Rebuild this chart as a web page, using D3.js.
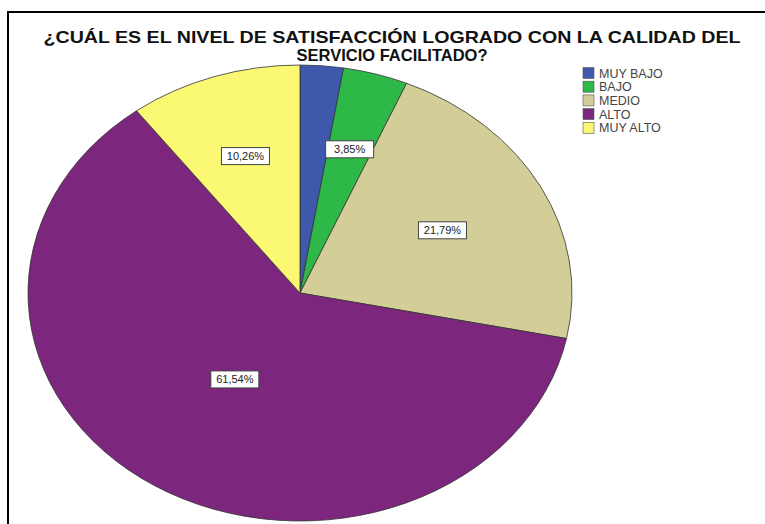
<!DOCTYPE html>
<head>
<meta charset="utf-8">
<script src="https://d3js.org/d3.v7.min.js"></script>
<title>Nivel de satisfacción</title>
<style>
  body { margin: 0; background: #fff; }
  svg { display: block; font-family: "Liberation Sans", Arial, sans-serif; }
</style>
</head>
<body>
<svg id="chart" width="765" height="524"></svg>
<script>
// chart values (percentages)
const categories = ['MUY BAJO', 'BAJO', 'MEDIO', 'ALTO', 'MUY ALTO'];
const percents = [2.56, 3.85, 21.79, 61.54, 10.26];
const colors = ['#3e58ac', '#2eb848', '#d3ce97', '#7c277d', '#fbf873'];
const titleLines = ['¿CUÁL ES EL NIVEL DE SATISFACCIÓN LOGRADO CON LA CALIDAD DEL', 'SERVICIO FACILITADO?'];

const svg = d3.select('#chart');

// outer frame (runs past the right and bottom edges)
svg.append('rect')
  .attr('x', 8).attr('y', 12)
  .attr('width', 800).attr('height', 600)
  .attr('fill', 'none')
  .attr('stroke', '#000')
  .attr('stroke-width', 2);

svg.selectAll('.title')
  .data(titleLines)
  .enter()
  .append('text')
    .attr('class', 'title')
    .attr('x', 392)
    .attr('y', (d, i) => 43 + i * 18)
    .attr('text-anchor', 'middle')
    .attr('textLength', (d, i) => i == 0 ? 697 : null)
    .attr('lengthAdjust', 'spacingAndGlyphs')
    .style('font-size', '16.5px')
    .style('font-weight', 'bold')
    .attr('fill', '#111')
    .text(d => d);

// pie, drawn as an ellipse
const cx = 300, cy = 293, rx = 272, ry = 228;
const sx = rx / ry;

const pie = d3.pie().sort(null).value(d => d.v);
const arcs = pie(categories.map((c, i) => ({ c: c, v: percents[i], col: colors[i] })));
const arc = d3.arc().innerRadius(0).outerRadius(ry);

const g = svg.append('g').attr('transform', `translate(${cx},${cy})`);

g.append('g')
  .attr('transform', `scale(${sx},1)`)
  .selectAll('path')
  .data(arcs)
  .enter()
  .append('path')
    .attr('d', arc)
    .attr('fill', d => d.data.col)
    .attr('stroke', '#333')
    .attr('stroke-width', 0.8)
    .attr('vector-effect', 'non-scaling-stroke');

// percentage labels: smaller radius fraction for wider slices
const fmt = v => d3.format('.2f')(v).replace('.', ',') + '%';
const labels = g.selectAll('.lbl')
  .data(arcs.filter(d => d.data.v >= 3))
  .enter()
  .append('g')
    .attr('class', 'lbl')
    .attr('transform', d => {
      const mid = (d.startAngle + d.endAngle) / 2;
      const span = (d.endAngle - d.startAngle) * 180 / Math.PI;
      const f = 0.67 - 0.001 * span;
      return `translate(${Math.sin(mid) * rx * f},${-Math.cos(mid) * ry * f})`;
    });

labels.append('rect')
  .attr('x', -24).attr('y', -8.5)
  .attr('width', 48).attr('height', 17)
  .attr('fill', '#fff')
  .attr('stroke', '#444')
  .attr('stroke-width', 1);

labels.append('text')
  .attr('text-anchor', 'middle')
  .attr('dy', '0.35em')
  .style('font-size', '11px')
  .attr('fill', '#222')
  .text(d => fmt(d.data.v));

// legend
const legend = svg.append('g').attr('transform', 'translate(583,73)');
const items = legend.selectAll('g')
  .data(categories)
  .enter()
  .append('g')
    .attr('transform', (d, i) => `translate(0,${i * 13.7})`);

items.append('rect')
  .attr('x', 0).attr('y', -5.5)
  .attr('width', 11).attr('height', 11)
  .attr('fill', (d, i) => colors[i])
  .attr('stroke', '#555')
  .attr('stroke-width', 0.6);

items.append('text')
  .attr('x', 16)
  .attr('dy', '0.36em')
  .style('font-size', '12.5px')
  .attr('fill', '#444')
  .text(d => d);
</script>
</body>
